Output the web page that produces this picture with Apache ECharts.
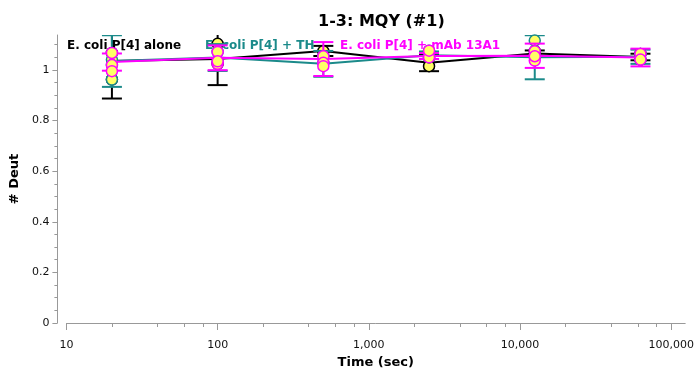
<!DOCTYPE html>
<html>
<head>
<meta charset="utf-8">
<script src="https://cdn.jsdelivr.net/npm/echarts@6/dist/echarts.min.js"></script>
<style>html,body{margin:0;padding:0;background:#fff}#c{width:697px;height:375px}</style>
</head>
<body>
<div id="c"></div>
<script>
// ---- data ----
const times = [20, 100, 500, 2500, 12500, 62500];
const seriesNames = ['E. coli P[4] alone', 'E. coli P[4] + TH', 'E. coli P[4] + mAb 13A1'];
const aloneMean = [1.035, 1.043, 1.075, 1.028, 1.065, 1.051];
const aloneErr  = [0.148, 0.103, 0.020, 0.033, 0.012, 0.013];
const aloneReps = [[1.067, 0.962], [1.103, 1.024], [1.074], [1.015, 1.050], [1.074, 1.054], [1.063, 1.041]];
const thMean = [1.035, 1.049, 1.024, 1.058, 1.050, 1.052];
const thErr  = [0.102, 0.053, 0.051, 0.015, 0.087, 0.028];
const thReps = [[1.041, 0.962, 1.019], [1.071, 1.034], [1.028, 1.054], [1.076, 1.050], [1.116, 1.054], [1.063, 1.041]];
const mabMean = [1.031, 1.048, 1.043, 1.055, 1.056, 1.049];
const mabErr  = [0.034, 0.049, 0.067, 0.012, 0.048, 0.035];
const mabReps = [[1.067, 1.019, 0.995], [1.071, 1.024, 1.034], [1.054, 1.028, 1.015], [1.050, 1.076], [1.074, 1.037, 1.054], [1.063, 1.041]];
const xMajorTicks = [10, 100, 1000, 10000, 100000];
const xMinorTicks = [20, 40, 60, 80, 200, 400, 600, 800, 2000, 4000, 6000, 8000, 20000, 40000, 60000, 80000];
const yMajorTicks = [0, 0.2, 0.4, 0.6, 0.8, 1];
const yMinorTicks = [0.05, 0.1, 0.15, 0.25, 0.3, 0.35, 0.45, 0.5, 0.55, 0.65, 0.7, 0.75, 0.85, 0.9, 0.95, 1.05, 1.1];

const colors = ['#000000', '#1b8a8a', '#ff00ff'];
const FONT = 'DejaVu Sans';
const X_MIN = 10, X_MAX = 123500, Y_MIN = 0, Y_MAX = 1.138;

const groups = [
  {mean: aloneMean, err: aloneErr, reps: aloneReps},
  {mean: thMean, err: thErr, reps: thReps},
  {mean: mabMean, err: mabErr, reps: mabReps}
];

const series = [];
groups.forEach((g, k) => {
  const col = colors[k];
  const name = seriesNames[k];
  series.push({
    name, type: 'custom', xAxisIndex: 0, yAxisIndex: 0, clip: true, z: 2 + k,
    encode: {x: 0, y: [1, 2]},
    data: times.map((t, i) => [t, g.mean[i] - g.err[i], g.mean[i] + g.err[i]]),
    renderItem: (params, api) => {
      const x = api.value(0);
      const pLo = api.coord([x, api.value(1)]);
      const pHi = api.coord([x, api.value(2)]);
      const hw = 10;
      const st = {stroke: col, lineWidth: 2};
      return {type: 'group', children: [
        {type: 'line', shape: {x1: pLo[0], y1: pLo[1], x2: pHi[0], y2: pHi[1]}, style: st},
        {type: 'line', shape: {x1: pLo[0] - hw, y1: pLo[1], x2: pLo[0] + hw, y2: pLo[1]}, style: st},
        {type: 'line', shape: {x1: pHi[0] - hw, y1: pHi[1], x2: pHi[0] + hw, y2: pHi[1]}, style: st}
      ]};
    }
  });
  series.push({
    name, type: 'line', xAxisIndex: 0, yAxisIndex: 0, z: 2 + k,
    data: times.map((t, i) => [t, g.mean[i]]),
    symbol: 'none', lineStyle: {color: col, width: 2}, itemStyle: {color: col}
  });
  const pts = [];
  times.forEach((t, i) => g.reps[i].forEach(v => pts.push([t, v])));
  series.push({
    name, type: 'scatter', xAxisIndex: 0, yAxisIndex: 0, z: 2 + k,
    data: pts, symbolSize: 11,
    itemStyle: {color: '#ffff66', borderColor: col, borderWidth: 1.5, opacity: 1}
  });
});

const legendLefts = [62, 200, 335];
const legends = seriesNames.map((n, k) => ({
  data: [n], left: legendLefts[k], top: 40, itemWidth: 0, itemHeight: 0, itemGap: 0,
  icon: 'rect', selectedMode: false, padding: 0,
  textStyle: {color: colors[k], fontFamily: FONT, fontWeight: 'bold', fontSize: 12}
}));

const chart = echarts.init(document.getElementById('c'), null, {renderer: 'canvas'});
chart.setOption({
  animation: false,
  backgroundColor: '#fff',
  title: {text: '1-3: MQY (#1)', left: 313, top: 9,
    textStyle: {fontFamily: FONT, fontWeight: 'bold', fontSize: 16, color: '#000'}},
  legend: legends,
  grid: {left: 63, right: 10, top: 35, bottom: 52, containLabel: false},
  xAxis: [
    {type: 'log', logBase: 10, min: X_MIN, max: X_MAX, offset: 6,
      name: 'Time (sec)', nameLocation: 'middle', nameGap: 25,
      nameTextStyle: {fontFamily: FONT, fontWeight: 'bold', fontSize: 13, color: '#000'},
      axisLine: {show: true, lineStyle: {color: '#999', width: 1}},
      axisTick: {show: true, length: 7, customValues: xMajorTicks, lineStyle: {color: '#999'}},
      axisLabel: {customValues: xMajorTicks, margin: 11, fontFamily: FONT, fontSize: 11, color: '#111',
        formatter: v => Number(v).toLocaleString('en-US')},
      splitLine: {show: false}, minorTick: {show: false}},
    {type: 'log', logBase: 10, min: X_MIN, max: X_MAX, offset: 6, position: 'bottom',
      axisLine: {show: false},
      axisTick: {show: true, length: 4, customValues: xMinorTicks, lineStyle: {color: '#999'}},
      axisLabel: {show: false}, splitLine: {show: false}}
  ],
  yAxis: [
    {type: 'value', min: Y_MIN, max: Y_MAX, offset: 9,
      name: '# Deut', nameLocation: 'middle', nameGap: 19, nameRotate: 90,
      nameTextStyle: {fontFamily: FONT, fontWeight: 'bold', fontSize: 13, color: '#000'},
      axisLine: {show: true, lineStyle: {color: '#999', width: 1}},
      axisTick: {show: true, length: 5, customValues: yMajorTicks, lineStyle: {color: '#999'}},
      axisLabel: {customValues: yMajorTicks, margin: 8, fontFamily: FONT, fontSize: 11, color: '#111'},
      splitLine: {show: false}},
    {type: 'value', min: Y_MIN, max: Y_MAX, offset: 9, position: 'left',
      axisLine: {show: false},
      axisTick: {show: true, length: 3, customValues: yMinorTicks, lineStyle: {color: '#999'}},
      axisLabel: {show: false}, splitLine: {show: false}}
  ],
  series
});
</script>
</body>
</html>
